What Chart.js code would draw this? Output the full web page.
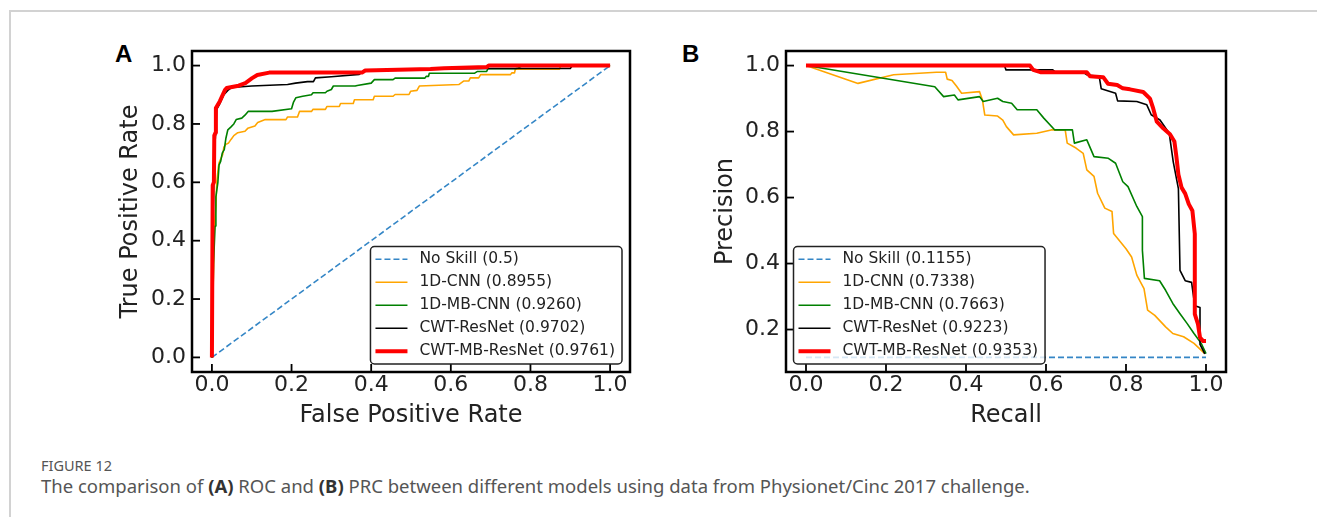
<!DOCTYPE html>
<html lang="en">
<head>
  <meta charset="utf-8">
  <title>Figure 12 - ROC and PRC comparison</title>
  <script src="https://cdn.jsdelivr.net/npm/chart.js@4.4.1/dist/chart.umd.min.js"></script>
  <style>
    body {
      margin: 0;
      width: 1317px;
      height: 517px;
      overflow: hidden;
      position: relative;
      background: #fff;
      font-family: 'DejaVu Sans', sans-serif;
    }
    .frame {
      position: absolute;
      left: 9px; top: 10px; right: -5px; bottom: -5px;
      border-top: 2px solid #d2d2d2;
      border-left: 2px solid #d2d2d2;
    }
    .panel { position: absolute; top: 30px; width: 560px; height: 420px; }
    .letter {
      position: absolute;
      top: 42px;
      font: bold 24px 'Liberation Sans', Arial, sans-serif;
      line-height: 24px;
      color: #000;
    }
    .fig-no {
      position: absolute; left: 41px; top: 455px;
      font: 14.5px 'Noto Sans', sans-serif; color: #555;
    }
    .caption {
      position: absolute; left: 41px; top: 473px;
      font: 18.5px 'Noto Sans', sans-serif; color: #555;
      white-space: nowrap;
    }
    .caption b { color: #333; }
  </style>
</head>
<body>
  <div class="frame"></div>

  <div class="letter" style="left:115px">A</div>
  <div class="letter" style="left:682px">B</div>

  <div class="panel" style="left:100px"><canvas id="rocChart" width="560" height="420"></canvas></div>
  <div class="panel" style="left:680px"><canvas id="prcChart" width="560" height="420"></canvas></div>

  <div class="fig-no">FIGURE 12</div>
  <div class="caption">The comparison of <b>(A)</b> ROC and <b>(B)</b> PRC between different models using data from Physionet/Cinc 2017 challenge.</div>

  <script>
    // ---- data ----
    const axisTicks = [0, 0.2, 0.4, 0.6, 0.8, 1.0];
    const prcYTicks = [0.2, 0.4, 0.6, 0.8, 1.0];
    const seriesNames = ['No Skill', '1D-CNN', '1D-MB-CNN', 'CWT-ResNet', 'CWT-MB-ResNet'];
    const rocScores = ['0.5', '0.8955', '0.9260', '0.9702', '0.9761'];
    const prcScores = ['0.1155', '0.7338', '0.7663', '0.9223', '0.9353'];

    // ROC (false positive rate / true positive rate)
    const rocNoSkillX = [0, 1];
    const rocNoSkillY = [0, 1];
    const rocCnnX = [0, 0.004, 0.006, 0.01, 0.012, 0.016, 0.018, 0.022, 0.027, 0.03, 0.035, 0.042, 0.048, 0.055, 0.065, 0.083, 0.09, 0.108, 0.115, 0.134, 0.186, 0.19, 0.215, 0.22, 0.25, 0.254, 0.285, 0.289, 0.32, 0.323, 0.355, 0.358, 0.405, 0.408, 0.455, 0.46, 0.495, 0.499, 0.515, 0.521, 0.62, 0.632, 0.645, 0.649, 0.67, 0.675, 0.75, 0.753, 0.76, 0.762, 0.873, 0.876, 1];
    const rocCnnY = [0, 0.30, 0.45, 0.52, 0.60, 0.65, 0.667, 0.68, 0.695, 0.72, 0.73, 0.735, 0.747, 0.76, 0.77, 0.775, 0.785, 0.793, 0.805, 0.815, 0.815, 0.824, 0.824, 0.843, 0.843, 0.85, 0.85, 0.86, 0.86, 0.87, 0.87, 0.883, 0.883, 0.895, 0.895, 0.901, 0.901, 0.912, 0.915, 0.93, 0.935, 0.947, 0.947, 0.958, 0.958, 0.969, 0.969, 0.975, 0.975, 0.988, 0.988, 1.0, 1.0];
    const rocMbCnnX = [0, 0.004, 0.008, 0.01, 0.015, 0.018, 0.022, 0.026, 0.031, 0.035, 0.04, 0.048, 0.055, 0.061, 0.075, 0.083, 0.091, 0.151, 0.2, 0.205, 0.211, 0.228, 0.25, 0.254, 0.285, 0.289, 0.3, 0.305, 0.36, 0.365, 0.4, 0.408, 0.455, 0.46, 0.535, 0.538, 0.544, 0.546, 0.66, 0.667, 0.69, 0.693, 0.762, 0.77, 0.78, 1];
    const rocMbCnnY = [0, 0.32, 0.45, 0.55, 0.60, 0.66, 0.672, 0.70, 0.712, 0.75, 0.78, 0.79, 0.80, 0.815, 0.82, 0.83, 0.843, 0.843, 0.852, 0.875, 0.89, 0.895, 0.90, 0.907, 0.907, 0.912, 0.918, 0.93, 0.93, 0.932, 0.94, 0.952, 0.952, 0.957, 0.957, 0.963, 0.963, 0.974, 0.974, 0.98, 0.98, 0.989, 0.989, 0.992, 1.0, 1.0];
    const rocResNetX = [0, 0.003, 0.006, 0.01, 0.012, 0.02, 0.03, 0.04, 0.05, 0.1, 0.19, 0.21, 0.24, 0.255, 0.26, 0.3, 0.37, 0.375, 0.385, 0.55, 0.7, 0.9, 0.905, 1];
    const rocResNetY = [0, 0.45, 0.70, 0.78, 0.85, 0.87, 0.90, 0.915, 0.925, 0.93, 0.935, 0.94, 0.945, 0.945, 0.958, 0.962, 0.97, 0.975, 0.985, 0.988, 0.99, 0.99, 1.0, 1.0];
    const rocMbResNetX = [0, 0.002, 0.005, 0.006, 0.009, 0.01, 0.02, 0.033, 0.037, 0.067, 0.084, 0.101, 0.114, 0.144, 0.377, 0.385, 0.549, 0.583, 0.69, 0.695, 1];
    const rocMbResNetY = [0, 0.59, 0.60, 0.76, 0.77, 0.855, 0.878, 0.917, 0.923, 0.931, 0.94, 0.957, 0.968, 0.976, 0.976, 0.983, 0.988, 0.991, 0.995, 1.0, 1.0];

    // PRC (recall / precision)
    const prcNoSkillX = [0, 1];
    const prcNoSkillY = [0.1155, 0.1155];
    const prcCnnX = [0, 0.13, 0.219, 0.326, 0.349, 0.353, 0.365, 0.376, 0.389, 0.434, 0.441, 0.447, 0.479, 0.492, 0.501, 0.519, 0.577, 0.613, 0.648, 0.653, 0.675, 0.693, 0.702, 0.72, 0.729, 0.747, 0.765, 0.769, 0.8, 0.814, 0.827, 0.845, 0.854, 0.872, 0.899, 0.917, 0.944, 0.97, 0.997];
    const prcCnnY = [1.0, 0.946, 0.972, 0.98, 0.98, 0.959, 0.955, 0.938, 0.916, 0.921, 0.896, 0.85, 0.847, 0.835, 0.815, 0.79, 0.795, 0.805, 0.805, 0.765, 0.75, 0.734, 0.684, 0.664, 0.613, 0.568, 0.558, 0.491, 0.445, 0.42, 0.365, 0.324, 0.259, 0.243, 0.208, 0.188, 0.178, 0.158, 0.127];
    const prcMbCnnX = [0, 0.322, 0.344, 0.371, 0.38, 0.434, 0.443, 0.479, 0.492, 0.514, 0.528, 0.577, 0.595, 0.622, 0.666, 0.671, 0.702, 0.72, 0.756, 0.774, 0.792, 0.805, 0.827, 0.841, 0.841, 0.846, 0.884, 0.899, 0.917, 0.935, 0.953, 0.97, 0.988, 1.0];
    const prcMbCnnY = [1.0, 0.936, 0.906, 0.911, 0.896, 0.906, 0.891, 0.901, 0.891, 0.886, 0.866, 0.866, 0.84, 0.805, 0.805, 0.765, 0.775, 0.724, 0.719, 0.704, 0.648, 0.633, 0.573, 0.542, 0.44, 0.355, 0.348, 0.319, 0.279, 0.248, 0.218, 0.188, 0.158, 0.127];
    const prcResNetX = [0, 0.496, 0.5, 0.617, 0.622, 0.693, 0.702, 0.733, 0.738, 0.774, 0.779, 0.827, 0.852, 0.863, 0.885, 0.908, 0.918, 0.931, 0.935, 0.948, 0.964, 0.972, 0.985, 0.985, 0.993, 0.997];
    const prcResNetY = [1.0, 1.0, 0.987, 0.987, 0.982, 0.98, 0.972, 0.967, 0.93, 0.916, 0.893, 0.891, 0.881, 0.851, 0.835, 0.795, 0.709, 0.627, 0.379, 0.348, 0.343, 0.272, 0.267, 0.155, 0.136, 0.126];
    const prcMbResNetX = [0, 0.56, 0.568, 0.586, 0.702, 0.71, 0.743, 0.755, 0.778, 0.792, 0.81, 0.843, 0.86, 0.868, 0.877, 0.893, 0.91, 0.921, 0.926, 0.931, 0.939, 0.948, 0.957, 0.966, 0.972, 0.972, 0.98, 0.985, 0.993, 1.0];
    const prcMbResNetY = [1.0, 1.0, 0.987, 0.98, 0.98, 0.968, 0.965, 0.945, 0.941, 0.931, 0.928, 0.92, 0.9, 0.87, 0.83, 0.81, 0.792, 0.77, 0.724, 0.67, 0.63, 0.612, 0.58, 0.56, 0.49, 0.247, 0.216, 0.176, 0.165, 0.165];

    // ---- styles ----
    const lineColors = ['#3486c6', '#ffa500', '#008000', '#000000', '#ff0000'];
    const lineWidths = [1.6, 1.6, 1.6, 1.6, 4];
    const tickFont = { family: "'DejaVu Sans'", size: 22, lineHeight: 1 };
    const titleFont = { family: "'DejaVu Sans'", size: 24 };

    const pts = (xs, ys) => xs.map((x, i) => ({ x: x, y: ys[i] }));

    function makeSets(curves, scores) {
      return curves.map((c, i) => ({
        label: seriesNames[i] + ' (' + scores[i] + ')',
        data: pts(c[0], c[1]),
        borderColor: lineColors[i],
        borderWidth: lineWidths[i],
        borderDash: i === 0 ? [6, 3] : [],
        borderJoinStyle: 'round',
        pointRadius: 0,
        fill: false,
        tension: 0,
        order: curves.length - 1 - i
      }));
    }

    // inward ticks, black frame and a boxed legend inside the plot
    const axesDecor = {
      id: 'axesDecor',
      afterDatasetsDraw(chart, args, opts) {
        const ctx = chart.ctx, a = chart.chartArea;
        ctx.save();
        ctx.strokeStyle = '#000';
        ctx.lineWidth = 1.8;
        ['x', 'y'].forEach(id => {
          const s = chart.scales[id];
          s.ticks.forEach(t => {
            const p = s.getPixelForValue(t.value);
            ctx.beginPath();
            if (id === 'x') { ctx.moveTo(p, a.bottom); ctx.lineTo(p, a.bottom - 8); }
            else { ctx.moveTo(a.left, p); ctx.lineTo(a.left + 8, p); }
            ctx.stroke();
          });
        });
        ctx.lineWidth = 2.5;
        ctx.strokeRect(a.left, a.top, a.right - a.left, a.bottom - a.top);

        const fs = 15.5, row = 23, pad = 5, handle = 32, gap = 12;
        ctx.font = fs + "px 'DejaVu Sans'";
        const sets = chart.data.datasets;
        const tw = Math.max(...sets.map(d => ctx.measureText(d.label).width));
        const w = pad + handle + gap + tw + 7;
        const h = 2 * pad + (sets.length - 1) * row + fs;
        const x0 = opts.side === 'right' ? a.right - 8 - w : a.left + 7.5;
        const y0 = a.bottom - 8 - h;
        ctx.beginPath();
        ctx.roundRect(x0, y0, w, h, 4);
        ctx.fillStyle = 'rgba(255,255,255,0.8)';
        ctx.fill();
        ctx.lineWidth = 1.5;
        ctx.strokeStyle = '#222';
        ctx.stroke();
        sets.forEach((d, i) => {
          const yy = y0 + pad + fs / 2 + i * row;
          ctx.beginPath();
          ctx.setLineDash(d.borderDash);
          ctx.lineWidth = d.borderWidth;
          ctx.strokeStyle = d.borderColor;
          ctx.moveTo(x0 + pad, yy);
          ctx.lineTo(x0 + pad + handle, yy);
          ctx.stroke();
          ctx.setLineDash([]);
          ctx.fillStyle = '#222';
          ctx.textBaseline = 'middle';
          ctx.textAlign = 'left';
          ctx.fillText(d.label, x0 + pad + handle + gap, yy);
        });
        ctx.restore();
      }
    };

    function makeChart(canvasId, sets, cfg) {
      return new Chart(document.getElementById(canvasId), {
        type: 'line',
        data: { datasets: sets },
        plugins: [axesDecor],
        options: {
          responsive: false,
          animation: false,
          events: [],
          layout: { padding: { top: 21, right: cfg.padRight, left: 0, bottom: 0 } },
          plugins: {
            legend: { display: false },
            tooltip: { enabled: false },
            axesDecor: { side: cfg.legendSide }
          },
          scales: {
            x: {
              type: 'linear',
              min: -0.05, max: 1.05,
              afterFit: s => { s.height = 78; },
              afterBuildTicks: s => { s.ticks = axisTicks.map(v => ({ value: v })); },
              grid: { display: false, drawTicks: false },
              border: { display: false },
              ticks: { autoSkip: false, padding: 2, color: '#222', font: tickFont, maxRotation: 0,
                       callback: v => v.toFixed(1) },
              title: { display: true, text: cfg.xTitle, color: '#222', font: titleFont,
                       padding: { top: 0, bottom: 20 } }
            },
            y: {
              type: 'linear',
              min: cfg.yMin, max: cfg.yMax,
              afterFit: s => { s.width = cfg.yWidth; },
              afterBuildTicks: s => { s.ticks = cfg.yTicks.map(v => ({ value: v })); },
              grid: { display: false, drawTicks: false },
              border: { display: false },
              ticks: { autoSkip: false, padding: 6, color: '#222', font: tickFont,
                       callback: v => v.toFixed(1) },
              title: { display: true, text: cfg.yTitle, color: '#222', font: titleFont,
                       padding: { top: cfg.yTitlePad, bottom: 0 } }
            }
          }
        }
      });
    }

    makeChart('rocChart', makeSets([
      [rocNoSkillX, rocNoSkillY], [rocCnnX, rocCnnY], [rocMbCnnX, rocMbCnnY],
      [rocResNetX, rocResNetY], [rocMbResNetX, rocMbResNetY]
    ], rocScores), {
      xTitle: 'False Positive Rate', yTitle: 'True Positive Rate',
      yMin: -0.05, yMax: 1.05, yTicks: axisTicks,
      yWidth: 92, padRight: 30, yTitlePad: 16.5, legendSide: 'right'
    });

    makeChart('prcChart', makeSets([
      [prcNoSkillX, prcNoSkillY], [prcCnnX, prcCnnY], [prcMbCnnX, prcMbCnnY],
      [prcResNetX, prcResNetY], [prcMbResNetX, prcMbResNetY]
    ], prcScores), {
      xTitle: 'Recall', yTitle: 'Precision',
      yMin: 0.0713, yMax: 1.0442, yTicks: prcYTicks,
      yWidth: 106, padRight: 14, yTitlePad: 31.5, legendSide: 'left'
    });
  </script>
</body>
</html>
